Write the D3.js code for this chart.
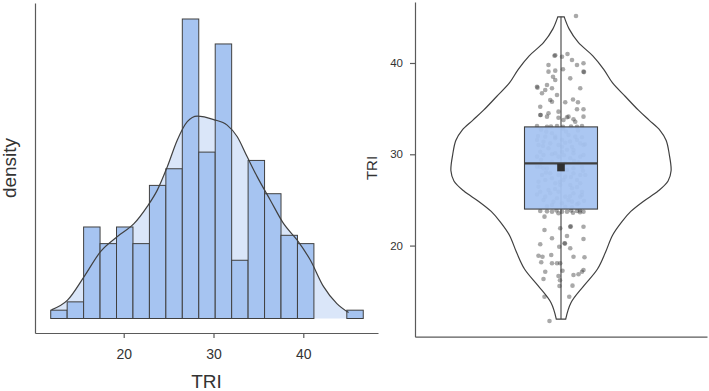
<!DOCTYPE html>
<html><head><meta charset="utf-8">
<script src="https://cdn.jsdelivr.net/npm/d3@7"></script>
<style>body{margin:0;background:#fff}svg{display:block}text{font-family:"Liberation Sans",Arial,sans-serif;fill:#333}</style>
</head><body><svg id="c" width="709" height="391"></svg>
<script>
// ---------- data ----------
const variableName = "TRI";
const densityLabel = "density";
const binCounts = [1, 2, 11, 9, 11, 9, 16, 18, 36, 20, 33, 7, 19, 15, 10, 9, 0, 0, 1];
const binStart = 11.87, binWidth = 1.832;
const densityX = [11.95, 13.74, 15.59, 17.44, 19.30, 21.14, 22.63, 23.74, 24.86, 25.97, 27.08, 28.19, 30.03, 31.52, 32.63, 33.74, 34.86, 36.33, 37.81, 39.30, 40.78, 42.26, 43.74, 45.05];
const densityY = [0.0025, 0.0053, 0.0121, 0.0194, 0.0237, 0.0274, 0.0324, 0.0371, 0.0439, 0.0516, 0.0569, 0.0585, 0.0575, 0.0559, 0.0526, 0.0468, 0.0410, 0.0342, 0.0274, 0.0227, 0.0169, 0.0092, 0.0043, 0.0017];
const xTicks = [20, 30, 40];
const yTicks = [20, 30, 40];
const boxStats = [11.96, 24, 29, 33, 45.07]; // min, q1, median, q3, max
const meanValue = 28.55;
const pointValues = [
45.15,40.80,40.85,40.69,40.99,40.33,39.78,39.78,39.97,39.05,39.16,39.31,39.05,39.00,38.32,37.40,37.59,38.14,37.23,36.68,36.50,35.95,37.23,35.70,35.70,35.21,34.67,34.49,34.30,34.93,34.93,34.12,33.83,34.12,33.76,33.57,33.10,33.02,33.10,33.10,37.04,
37.30,35.76,34.30,34.00,34.05,34.12,33.05,33.00,33.05,33.00,36.00,38.50,
23.79,23.17,23.71,23.54,23.71,23.79,23.71,22.07,22.10,22.07,21.71,21.90,20.80,21.05,20.72,20.14,19.88,20.25,20.22,19.70,18.89,18.78,18.97,18.78,18.72,18.17,18.06,17.14,17.25,17.14,16.86,16.78,16.34,16.67,15.57,15.61,14.40,14.40,11.74,17.33,16.20,18.06,18.06,
23.60,23.75,23.70,23.65,23.85,23.85,23.85,
32.48,32.30,31.93,32.11,31.93,31.86,31.57,31.38,31.20,31.02,31.27,30.83,31.20,30.28,30.11,30.28,30.11,29.92,29.74,28.64,28.47,27.92,27.73,28.28,27.92,27.73,27.00,27.19,26.82,27.19,26.64,26.82,25.90,25.73,25.90,25.36,25.73,25.54,25.00,24.81,24.63,24.81,24.63,
31.93,31.75,32.50,31.57,31.02,30.66,30.83,30.47,31.02,29.92,29.74,29.56,29.74,27.73,27.37,27.55,27.19,27.73,26.45,26.09,26.64,26.28,25.90,25.36,25.18,25.00,25.36,24.45,24.26,24.52,28.47,28.47,28.64,28.64,29.19,29.12,29.00,
32.70,32.80,32.60,31.60,31.40,30.90,30.50,30.00,29.40,29.30,28.90,28.20,28.00,27.50,27.00,26.40,26.20,25.60,25.40,24.90,24.30,24.20,31.10,32.00,29.90
];
const pointJitter = [
0.60,-0.26,-0.23,0.04,0.26,0.44,-0.50,0.64,0.90,-0.50,-0.23,0.08,0.90,0.92,0.37,-0.96,-0.56,-0.23,-0.36,-0.76,-0.16,-0.43,0.77,0.17,0.68,-0.83,-0.10,-0.50,-0.83,0.64,0.90,0.30,0.50,0.90,0.10,0.57,-0.96,-0.56,-0.16,0.84,-0.63,
-0.94,-0.36,-0.81,-0.10,0.24,-0.56,-0.40,0.08,0.40,0.64,0.48,-0.32,
-0.83,-0.66,-0.36,-0.10,0.24,0.64,0.90,0.37,0.39,0.90,-0.66,-0.03,-0.36,0.24,0.90,-0.83,-0.07,0.14,0.16,0.37,-0.90,-0.74,-0.39,0.50,0.94,-0.79,-0.16,-0.63,0.06,0.84,0.70,0.50,-0.70,-0.10,-0.06,0.46,-0.66,0.33,-0.46,0.90,-0.04,-0.36,-0.03,
0.48,-0.56,0.04,0.76,-0.18,0.40,0.76,
-0.59,-0.36,-0.23,0.30,0.57,0.84,-0.96,-0.70,-0.43,-0.10,0.17,0.44,0.77,-0.83,-0.23,0.04,0.50,0.90,-0.96,-0.96,-0.70,-0.43,-0.10,0.24,0.50,0.77,-0.90,-0.63,-0.23,0.10,0.37,0.77,-0.83,-0.43,-0.10,0.17,0.50,0.84,-0.70,-0.30,0.04,0.44,0.70,
-0.63,-0.23,0.20,0.64,-0.90,-0.50,0.04,0.50,0.90,-0.70,-0.10,0.37,0.77,-0.76,-0.36,0.17,0.64,0.97,-0.90,-0.50,-0.03,0.44,0.84,-0.63,-0.16,0.30,0.77,-0.36,0.17,0.64,-0.56,0.50,0.84,-0.83,-0.36,0.70,0.17,
-0.80,0.08,0.68,0.04,0.36,-0.72,0.24,-0.36,-0.80,0.52,-0.16,0.88,-0.60,0.40,-0.04,0.64,-0.24,-0.96,0.36,0.92,-0.56,0.44,0.96,-0.92,0.12
];

// ---------- styles ----------
const barColor = "#a6c4f1", densityFill = "#dae6f9", ink = "#404040", axisColor = "#5a5a5a";
const svg = d3.select("#c");
svg.append("rect").attr("width", 709).attr("height", 391).attr("fill", "#fff");

function styleAxis(g, fs) {
  g.select(".domain").attr("stroke", axisColor).attr("stroke-width", 1.2);
  g.selectAll(".tick line").attr("stroke", axisColor).attr("stroke-width", 1.2);
  g.selectAll(".tick text").attr("fill", "#3a3a3a").attr("font-size", fs)
    .attr("font-family", "'Liberation Sans', Arial, sans-serif");
}

// ---------- left: histogram + density ----------
const xL = d3.scaleLinear().domain([10.12, 48.32]).range([35, 378]);
const yL = d3.scaleLinear().domain([0, 36]).range([318.5, 19]);
const total = d3.sum(binCounts);
const toCount = total * binWidth;
const bins = binCounts.map((c, i) => ({x0: binStart + i * binWidth, x1: binStart + (i + 1) * binWidth, c}));
const dens = densityX.map((x, i) => ({x, d: densityY[i]}));

const gL = svg.append("g");
gL.append("path").datum(dens)
  .attr("d", d3.area().x(d => xL(d.x)).y0(yL(0)).y1(d => yL(d.d * toCount)).curve(d3.curveMonotoneX))
  .attr("fill", densityFill);
gL.selectAll("rect.bar").data(bins.filter(b => b.c > 0)).join("rect").attr("class", "bar")
  .attr("x", b => xL(b.x0)).attr("width", b => xL(b.x1) - xL(b.x0))
  .attr("y", b => yL(b.c)).attr("height", b => yL(0) - yL(b.c))
  .attr("fill", barColor).attr("stroke", ink).attr("stroke-width", 1);
gL.append("path").datum(dens)
  .attr("d", d3.line().x(d => xL(d.x)).y(d => yL(d.d * toCount)).curve(d3.curveMonotoneX))
  .attr("fill", "none").attr("stroke", ink).attr("stroke-width", 1.2);

const gxL = svg.append("g").attr("transform", "translate(0,333)")
  .call(d3.axisBottom(xL).tickValues(xTicks).tickSize(5).tickPadding(11).tickSizeOuter(0));
styleAxis(gxL, 14);
const yAxisL = d3.scaleLinear().domain([yL.invert(333), yL.invert(3)]).range([333, 3]);
const gyL = svg.append("g").attr("transform", "translate(35,0)")
  .call(d3.axisLeft(yAxisL).tickValues([]).tickSizeOuter(0));
styleAxis(gyL, 14);

svg.append("text").attr("x", 206.5).attr("y", 388).attr("text-anchor", "middle")
  .attr("font-size", 19).text(variableName);
svg.append("text").attr("transform", "translate(16,168) rotate(-90)").attr("text-anchor", "middle")
  .attr("font-size", 19).text(densityLabel);

// ---------- right: violin + box + points ----------
const yR = d3.scaleLinear().domain([10.02, 46.68]).range([336.7, 2]);
const xR = d3.scaleBand().domain([variableName]).range([415, 707]);
const cx = xR(variableName) + xR.bandwidth() / 2;
const hw = d3.scaleLinear().domain([0, d3.max(densityY)]).range([0, 0.377 * xR.bandwidth()]);
const boxHalf = 0.125 * xR.bandwidth();
const jitterWidth = 25;

const gR = svg.append("g");
gR.append("path").datum(dens)
  .attr("d", d3.area().y(d => yR(d.x)).x0(d => cx - hw(d.d)).x1(d => cx + hw(d.d)).curve(d3.curveCatmullRom))
  .attr("fill", "none").attr("stroke", ink).attr("stroke-width", 1.2);

gR.append("line").attr("x1", cx).attr("x2", cx)
  .attr("y1", yR(boxStats[0])).attr("y2", yR(boxStats[4]))
  .attr("stroke", ink).attr("stroke-width", 1.1);

gR.selectAll("circle").data(pointValues.map((v, i) => ({v, j: pointJitter[i]}))).join("circle")
  .attr("cx", d => cx + d.j * jitterWidth).attr("cy", d => yR(d.v)).attr("r", 2.3)
  .attr("fill", "#333").attr("fill-opacity", 0.42);

gR.append("rect").attr("x", cx - boxHalf).attr("width", 2 * boxHalf)
  .attr("y", yR(boxStats[3])).attr("height", yR(boxStats[1]) - yR(boxStats[3]))
  .attr("fill", barColor).attr("fill-opacity", 0.94).attr("stroke", ink).attr("stroke-width", 1.1);
gR.append("line").attr("x1", cx - boxHalf).attr("x2", cx + boxHalf)
  .attr("y1", yR(boxStats[2])).attr("y2", yR(boxStats[2]))
  .attr("stroke", ink).attr("stroke-width", 2.2);
gR.append("rect").attr("x", cx - 3.8).attr("y", yR(meanValue) - 3.8).attr("width", 7.6).attr("height", 7.6)
  .attr("fill", "#2f2f2f");

const gyR = svg.append("g").attr("transform", "translate(415,0)")
  .call(d3.axisLeft(yR).tickValues(yTicks).tickSize(5).tickPadding(7).tickSizeOuter(0));
styleAxis(gyR, 11.5);
const gxR = svg.append("g").attr("transform", "translate(0,336.7)")
  .call(d3.axisBottom(xR).tickSize(0).tickFormat("").tickSizeOuter(0));
styleAxis(gxR, 11.5);

svg.append("text").attr("transform", "translate(377,168) rotate(-90)").attr("text-anchor", "middle")
  .attr("font-size", 15).text(variableName);
</script>
</body></html>
